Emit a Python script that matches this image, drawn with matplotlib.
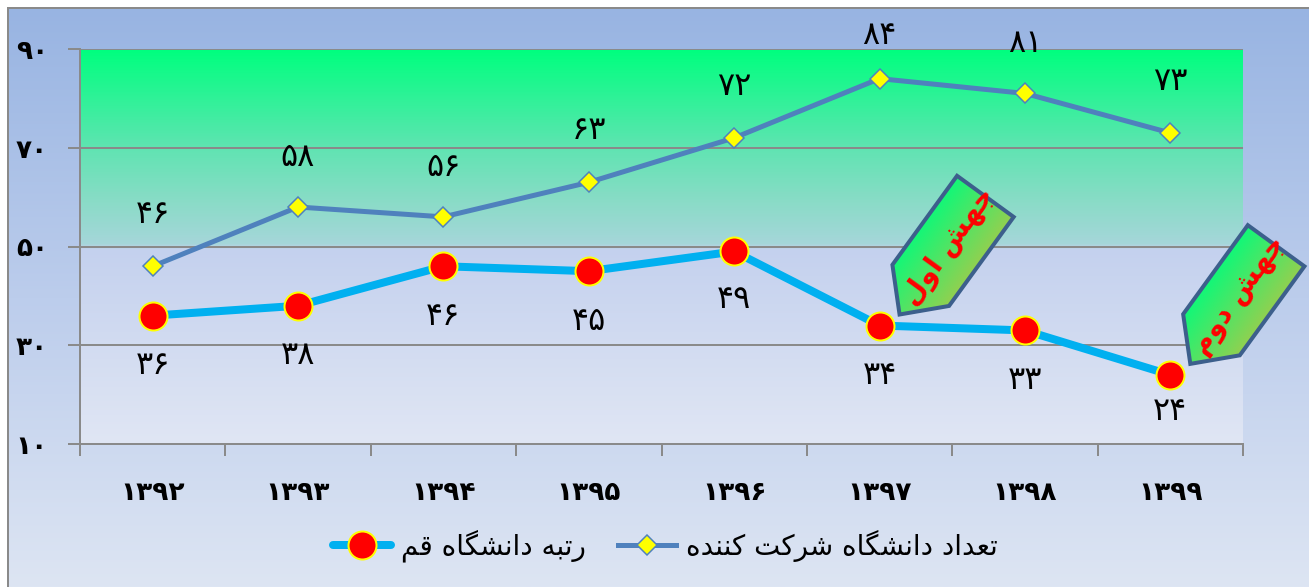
import numpy as np
import matplotlib
matplotlib.use('Agg')
import matplotlib.pyplot as plt
from matplotlib.colors import LinearSegmentedColormap, to_rgb
from matplotlib.patches import Polygon

plt.rcParams['font.family'] = ['DejaVu Sans']

# data
years = [1392, 1393, 1394, 1395, 1396, 1397, 1398, 1399]
qom_rank = [36, 38, 46, 45, 49, 34, 33, 24]
uni_count = [46, 58, 56, 63, 72, 84, 81, 73]
y_ticks = [10, 30, 50, 70, 90]
label_rank = 'رتبه دانشگاه قم'
label_count = 'تعداد دانشگاه شرکت کننده'
jump_texts = ['جهش اول', 'جهش دوم']
jump_idx = [5, 7]

# label offsets in pixels (style)
rank_off = [-50, -50, -50, -50, -48, -50, -50, -37]
count_off = [52, 49, 49, 52, 51, 43, 50, 51]

# --- crude persian shaping (matplotlib has no arabic shaping / rtl)
FORMS = {
    'ا': ('\uFE8D', '\uFE8E', None, None),
    'ب': ('\uFE8F', '\uFE90', '\uFE91', '\uFE92'),
    'ت': ('\uFE95', '\uFE96', '\uFE97', '\uFE98'),
    'ج': ('\uFE9D', '\uFE9E', '\uFE9F', '\uFEA0'),
    'د': ('\uFEA9', '\uFEAA', None, None),
    'ر': ('\uFEAD', '\uFEAE', None, None),
    'ش': ('\uFEB5', '\uFEB6', '\uFEB7', '\uFEB8'),
    'ع': ('\uFEC9', '\uFECA', '\uFECB', '\uFECC'),
    'ق': ('\uFED5', '\uFED6', '\uFED7', '\uFED8'),
    'ل': ('\uFEDD', '\uFEDE', '\uFEDF', '\uFEE0'),
    'م': ('\uFEE1', '\uFEE2', '\uFEE3', '\uFEE4'),
    'ن': ('\uFEE5', '\uFEE6', '\uFEE7', '\uFEE8'),
    'ه': ('\uFEE9', '\uFEEA', '\uFEEB', '\uFEEC'),
    'و': ('\uFEED', '\uFEEE', None, None),
    'ک': ('\uFB8E', '\uFB8F', '\uFB90', '\uFB91'),
    'گ': ('\uFB92', '\uFB93', '\uFB94', '\uFB95'),
}
NO_LEFT = set('ادذرزژو')


def fa(s):
    out = []
    for i, c in enumerate(s):
        if c not in FORMS:
            out.append(c)
            continue
        prev = s[i - 1] if i > 0 else None
        nxt = s[i + 1] if i + 1 < len(s) else None
        jp = prev in FORMS and prev not in NO_LEFT
        jn = nxt in FORMS and c not in NO_LEFT
        iso, fin, ini, med = FORMS[c]
        if jp and jn:
            out.append(med)
        elif jp:
            out.append(fin)
        elif jn:
            out.append(ini)
        else:
            out.append(iso)
    return ''.join(out)[::-1]


DIG = str.maketrans('0123456789', '۰۱۲۳۴۵۶۷۸۹')


def fnum(n):
    return str(n).translate(DIG)


PX = 0.72  # pixels -> points at dpi 100
W, H = 1309, 587
fig = plt.figure(figsize=(W / 100, H / 100), dpi=100, facecolor='white')

# outer background
bg = fig.add_axes([0, 0, 1, 1], zorder=0)
bg.set_xlim(0, W)
bg.set_ylim(0, H)
bg.axis('off')
outer = LinearSegmentedColormap.from_list('outer', [(0, '#98b4e2'), (0.5, '#bccdec'), (1, '#dde5f3')])
bg.imshow(np.linspace(0, 1, 256)[:, None], cmap=outer, extent=[8, W, 0, H - 8],
          aspect='auto', interpolation='bilinear')
bg.plot([8, 8], [0, H - 8], color='#8a8a8a', lw=2 * PX)
bg.plot([8, W], [H - 8, H - 8], color='#8a8a8a', lw=2 * PX)
bg.set_xlim(0, W)
bg.set_ylim(0, H)

ax = fig.add_axes([80 / W, 1 - 444 / H, (1243 - 80) / W, (444 - 49) / H], zorder=1)
ax.patch.set_alpha(0)
inner = LinearSegmentedColormap.from_list('inner', [
    (0, '#00ff7f'), (0.25, '#60e4b2'), (0.38, '#88dcc6'), (0.495, '#a6d6da'),
    (0.505, '#c4d1ee'), (1, '#e0e6f4')])
ax.imshow(np.linspace(0, 1, 400)[:, None], cmap=inner, extent=[-0.5, 7.5, 10, 90],
          aspect='auto', interpolation='bilinear', zorder=0)
ax.set_xlim(-0.5, 7.5)
ax.set_ylim(10, 90)

x = np.arange(len(years))
ax.plot(x, qom_rank, color='#00b0f0', lw=8 * PX, marker='o', ms=28 * PX, mfc='#ff0000',
        mec='#ffff00', mew=2 * PX, zorder=4, label=fa(label_rank), solid_capstyle='round')
ax.plot(x, uni_count, color='#4f81bd', lw=5 * PX, marker='D', ms=14 * PX, mfc='#ffff00',
        mec='#4f81bd', mew=1.5 * PX, zorder=3, label=fa(label_count))

for i in range(len(years)):
    ax.annotate(fnum(qom_rank[i]), (x[i], qom_rank[i]), xytext=(0, rank_off[i]),
                textcoords='offset pixels', ha='center', va='center', fontsize=23, zorder=5)
    ax.annotate(fnum(uni_count[i]), (x[i], uni_count[i]), xytext=(0, count_off[i]),
                textcoords='offset pixels', ha='center', va='center', fontsize=23, zorder=5,
                annotation_clip=False)

gc = '#8a8a8a'
for s in ['top', 'right']:
    ax.spines[s].set_visible(False)
for s in ['left', 'bottom']:
    ax.spines[s].set_color(gc)
    ax.spines[s].set_linewidth(2 * PX)
ax.grid(axis='y', color=gc, lw=2 * PX, zorder=1)
ax.set_axisbelow(True)

ax.set_yticks(y_ticks)
ax.set_yticklabels([fnum(v) for v in y_ticks])
ax.tick_params(axis='y', length=12 * PX, width=2 * PX, color=gc, pad=20 * PX, labelsize=19)
ax.set_xticks(x)
ax.set_xticklabels([fnum(v) for v in years])
ax.tick_params(axis='x', which='major', length=0, pad=36 * PX, labelsize=19)
ax.set_xticks(np.arange(-0.5, len(years)), minor=True)
ax.tick_params(axis='x', which='minor', length=12 * PX, width=2 * PX, color=gc)
for t in ax.get_xticklabels() + ax.get_yticklabels():
    t.set_fontweight('bold')

ax.legend(loc='center', bbox_to_anchor=(665 / W, 1 - 546 / H), bbox_transform=fig.transFigure,
          ncol=2, frameon=False, fontsize=20, handlelength=2.1, columnspacing=1.15,
          handletextpad=0.35)

# callouts in pixel space
ov = fig.add_axes([0, 0, 1, 1], zorder=5)
ov.set_xlim(0, W)
ov.set_ylim(0, H)
ov.axis('off')
ov.patch.set_alpha(0)

ang = np.deg2rad(54)
u = np.array([np.cos(ang), np.sin(ang)])
v = np.array([-u[1], u[0]])
L, S, Wd = 146, 36, 35
green = np.array(to_rgb('#10f878'))
olive = np.array(to_rgb('#92d050'))
for k, idx in enumerate(jump_idx):
    px, py = ax.transData.transform((x[idx], qom_rank[idx]))
    tip = np.array([px + 20, py + 11])
    local = [(0, 0), (S, Wd), (L, Wd), (L, -Wd), (S, -Wd)]
    pts = np.array([tip + a * u + b * v for a, b in local])
    poly = Polygon(pts, closed=True, fc='none', ec='#3c5f8c', lw=4 * PX, joinstyle='miter', zorder=3)
    ov.add_patch(poly)
    x0, y0 = pts.min(axis=0)
    x1, y1 = pts.max(axis=0)
    gx, gy = np.meshgrid(np.linspace(x0, x1, 120), np.linspace(y1, y0, 120))
    t = ((gx - tip[0]) * v[0] + (gy - tip[1]) * v[1] + Wd) / (2 * Wd)
    t = np.clip(t, 0, 1)[..., None]
    img = olive * (1 - t) + green * t
    im = ov.imshow(img, extent=[x0, x1, y0, y1], aspect='auto', zorder=2, interpolation='bilinear')
    clip = Polygon(pts, closed=True, transform=ov.transData)
    im.set_clip_path(clip)
    c = tip + 84 * u
    ov.text(c[0], c[1], fa(jump_texts[k]), rotation=54, rotation_mode='anchor', ha='center',
            va='center', color='#ff0000', fontsize=20, fontweight='bold', zorder=4)
ov.set_xlim(0, W)
ov.set_ylim(0, H)

fig.savefig('out.png', dpi=100, facecolor='white')
